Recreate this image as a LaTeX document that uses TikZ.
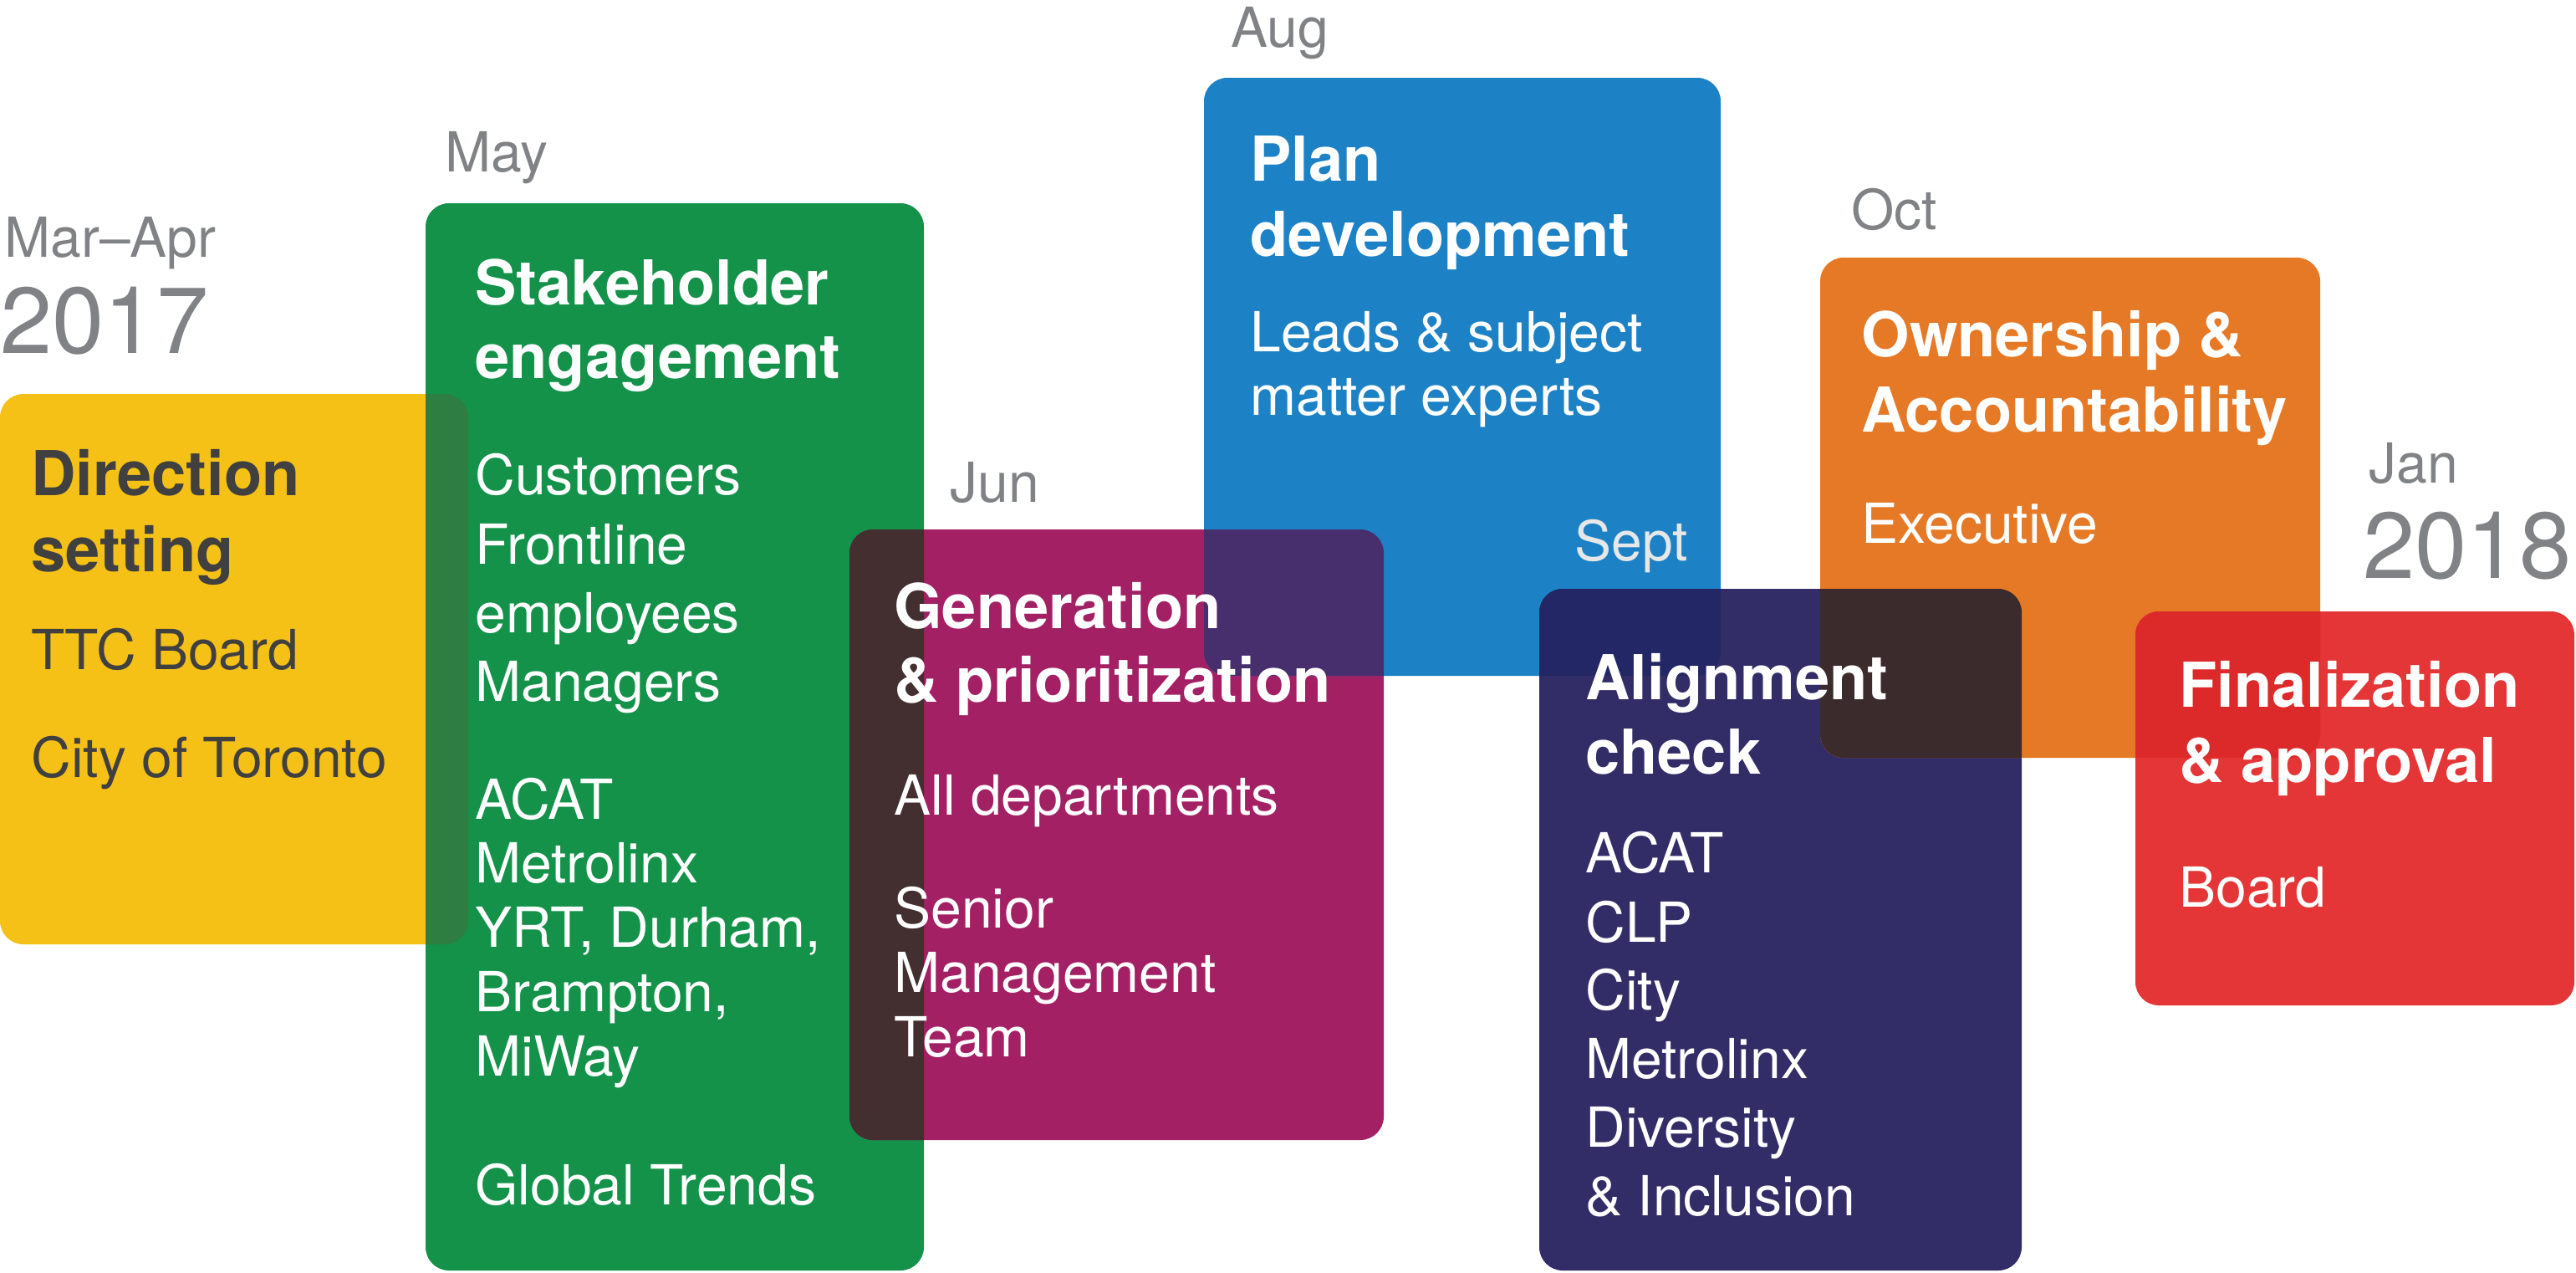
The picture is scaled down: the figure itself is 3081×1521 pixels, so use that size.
\documentclass[tikz,border=0pt]{standalone}
\usepackage{fontspec}
\setmainfont{TeX Gyre Heros}
\definecolor{yellowC}{HTML}{F5C116}
\definecolor{greenC}{HTML}{14924A}
\definecolor{magC}{HTML}{A32065}
\definecolor{blueC}{HTML}{1D82C5}
\definecolor{purpC}{HTML}{332D67}
\definecolor{orangeC}{HTML}{E67925}
\definecolor{redC}{HTML}{E43637}
\definecolor{ovYG}{HTML}{2E7D42}
\definecolor{ovGM}{HTML}{432E30}
\definecolor{ovMB}{HTML}{472E6D}
\definecolor{ovBP}{HTML}{232765}
\definecolor{ovOP}{HTML}{3B2B2C}
\definecolor{ovOR}{HTML}{DC2A2A}
\definecolor{darktext}{HTML}{404041}
\definecolor{monthgray}{HTML}{808285}
\definecolor{septgray}{HTML}{E6E7E8}
\tikzset{
  card/.style={rounded corners=14pt},
  txt/.style={anchor=base west, inner sep=0pt, text=white,
    font=\fontsize{33}{40}\selectfont},
  ttl/.style={anchor=base west, inner sep=0pt, text=white,
    font=\fontsize{37}{44}\selectfont\bfseries},
  month/.style={anchor=base west, inner sep=0pt, text=monthgray,
    font=\fontsize{33}{40}\selectfont},
  year/.style={anchor=base west, inner sep=0pt, text=monthgray,
    font=\fontsize{56}{67}\selectfont},
}
\begin{document}
\begin{tikzpicture}[x=0.5pt,y=-0.5pt]
\useasboundingbox (0,0) rectangle (3081,1521);

% card corners
\coordinate (dirA) at (0,471);    \coordinate (dirB) at (560,1129);
\coordinate (stkA) at (509,243);  \coordinate (stkB) at (1105,1519);
\coordinate (genA) at (1016,633); \coordinate (genB) at (1655,1363);
\coordinate (plnA) at (1440,93);  \coordinate (plnB) at (2058,808);
\coordinate (alnA) at (1841,704); \coordinate (alnB) at (2418,1519);
\coordinate (ownA) at (2177,308); \coordinate (ownB) at (2775,906);
\coordinate (finA) at (2554,731); \coordinate (finB) at (3079,1202);

% cards
\fill[card, yellowC] (dirA) rectangle (dirB);
\fill[card, greenC]  (stkA) rectangle (stkB);
\fill[card, magC]    (genA) rectangle (genB);
\fill[card, blueC]   (plnA) rectangle (plnB);
\fill[card, purpC]   (alnA) rectangle (alnB);
\fill[card, orangeC] (ownA) rectangle (ownB);
\fill[card, redC]    (finA) rectangle (finB);

% overlapping areas
\begin{scope}
  \clip[card] (dirA) rectangle (dirB);
  \fill[card, ovYG] (stkA) rectangle (stkB);
\end{scope}
\begin{scope}
  \clip[card] (stkA) rectangle (stkB);
  \fill[card, ovGM] (genA) rectangle (genB);
\end{scope}
\begin{scope}
  \clip[card] (genA) rectangle (genB);
  \fill[card, ovMB] (plnA) rectangle (plnB);
\end{scope}
\begin{scope}
  \clip[card] (plnA) rectangle (plnB);
  \fill[card, ovBP] (alnA) rectangle (alnB);
\end{scope}
\begin{scope}
  \clip[card] (ownA) rectangle (ownB);
  \fill[card, ovOP] (alnA) rectangle (alnB);
\end{scope}
\begin{scope}
  \clip[card] (ownA) rectangle (ownB);
  \fill[card, ovOR] (finA) rectangle (finB);
\end{scope}

% timeline labels
\node[month] (mMarApr) at (5,307) {Mar–Apr};
\node[year]  (y2017)   at (0,422) {2017};
\node[month] (mMay)    at (532,205) {May};
\node[month] (mJun)    at (1136,600) {Jun};
\node[month] (mAug)    at (1472,56) {Aug};
\node[month, text=septgray] (mSep) at (1883,670) {Sept};
\node[month] (mOct)    at (2214,274) {Oct};
\node[month] (mJan)    at (2833,577) {Jan};
\node[year]  (y2018)   at (2826,691) {2018};

% Direction setting
\node[ttl, text=darktext] (dir1) at (37,592) {Direction};
\node[ttl, text=darktext] (dir2) at (37,683) {setting};
\node[txt, text=darktext] (dir3) at (37,800) {TTC Board};
\node[txt, text=darktext] (dir4) at (37,929) {City of Toronto};

% Stakeholder engagement
\node[ttl] (stk1) at (568,364) {Stakeholder};
\node[ttl] (stk2) at (568,452) {engagement};
\node[txt] (stk3) at (568,591) {Customers};
\node[txt] (stk4) at (568,674) {Frontline};
\node[txt] (stk5) at (568,756) {employees};
\node[txt] (stk6) at (568,838) {Managers};
\node[txt] (stk7) at (568,979) {ACAT};
\node[txt] (stk8) at (568,1055) {Metrolinx};
\node[txt] (stk9) at (568,1132) {YRT, Durham,};
\node[txt] (stk10) at (568,1209) {Brampton,};
\node[txt] (stk11) at (568,1286) {MiWay};
\node[txt] (stk12) at (568,1440) {Global Trends};

% Generation & prioritization
\node[ttl] (gen1) at (1069,751) {Generation};
\node[ttl] (gen2) at (1069,839) {\& prioritization};
\node[txt] (gen3) at (1069,974) {All departments};
\node[txt] (gen4) at (1069,1109) {Senior};
\node[txt] (gen5) at (1069,1186) {Management};
\node[txt] (gen6) at (1069,1263) {Team};

% Plan development
\node[ttl] (pln1) at (1495,216) {Plan};
\node[ttl] (pln2) at (1495,306) {development};
\node[txt] (pln3) at (1495,420) {Leads \& subject};
\node[txt] (pln4) at (1495,496) {matter experts};

% Ownership & Accountability
\node[ttl] (own1) at (2226,426) {Ownership \&};
\node[ttl] (own2) at (2226,516) {Accountability};
\node[txt] (own3) at (2226,649) {Executive};

% Alignment check
\node[ttl] (aln1) at (1896,836) {Alignment};
\node[ttl] (aln2) at (1896,925) {check};
\node[txt] (aln3) at (1896,1043) {ACAT};
\node[txt] (aln4) at (1896,1126) {CLP};
\node[txt] (aln5) at (1896,1207) {City};
\node[txt] (aln6) at (1896,1289) {Metrolinx};
\node[txt] (aln7) at (1896,1371) {Diversity};
\node[txt] (aln8) at (1896,1453) {\& Inclusion};

% Finalization & approval
\node[ttl] (fin1) at (2606,845) {Finalization};
\node[ttl] (fin2) at (2606,935) {\& approval};
\node[txt] (fin3) at (2606,1084) {Board};
\end{tikzpicture}
\end{document}
